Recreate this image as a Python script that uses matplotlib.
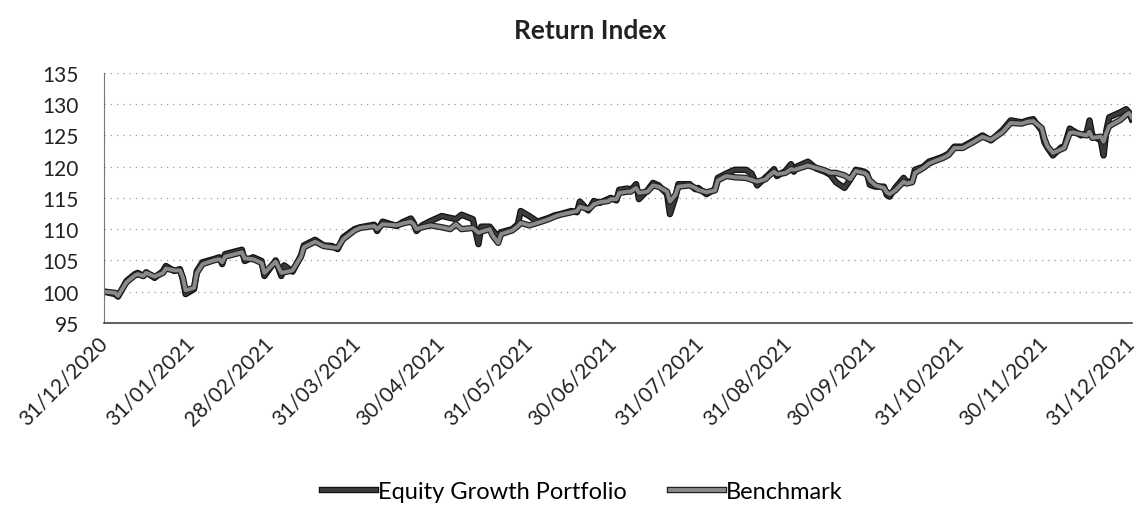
import pandas as pd
import matplotlib.pyplot as plt
import matplotlib.dates as mdates
import matplotlib.patheffects as pe

plt.rcParams['font.family'] = ['Lato', 'DejaVu Sans']

# values
dates = ['2020-12-31', '2021-01-04', '2021-01-05', '2021-01-08', '2021-01-11', '2021-01-12',
         '2021-01-14', '2021-01-15', '2021-01-18', '2021-01-21', '2021-01-22', '2021-01-25',
         '2021-01-27', '2021-01-28', '2021-01-29', '2021-02-01', '2021-02-02', '2021-02-04',
         '2021-02-08', '2021-02-10', '2021-02-11', '2021-02-12', '2021-02-18', '2021-02-19',
         '2021-02-22', '2021-02-25', '2021-02-26', '2021-03-02', '2021-03-04', '2021-03-05',
         '2021-03-08', '2021-03-11', '2021-03-12', '2021-03-16', '2021-03-19', '2021-03-22',
         '2021-03-24', '2021-03-26', '2021-03-30', '2021-04-01', '2021-04-06', '2021-04-07',
         '2021-04-09', '2021-04-14', '2021-04-16', '2021-04-19', '2021-04-20', '2021-04-21',
         '2021-04-23', '2021-04-26', '2021-04-30', '2021-05-03', '2021-05-05', '2021-05-07',
         '2021-05-11', '2021-05-13', '2021-05-14', '2021-05-17', '2021-05-18', '2021-05-20',
         '2021-05-21', '2021-05-25', '2021-05-27', '2021-05-28', '2021-05-31', '2021-06-03',
         '2021-06-07', '2021-06-09', '2021-06-11', '2021-06-15', '2021-06-17', '2021-06-18',
         '2021-06-21', '2021-06-22', '2021-06-23', '2021-06-25', '2021-06-28', '2021-06-29',
         '2021-07-01', '2021-07-02', '2021-07-05', '2021-07-06', '2021-07-08', '2021-07-09',
         '2021-07-12', '2021-07-14', '2021-07-16', '2021-07-19', '2021-07-20', '2021-07-22',
         '2021-07-23', '2021-07-27', '2021-07-29', '2021-07-30', '2021-08-02', '2021-08-05',
         '2021-08-06', '2021-08-09', '2021-08-12', '2021-08-16', '2021-08-18', '2021-08-20',
         '2021-08-23', '2021-08-24', '2021-08-26', '2021-08-27', '2021-08-30', '2021-09-01',
         '2021-09-02', '2021-09-03', '2021-09-07', '2021-09-10', '2021-09-13', '2021-09-15',
         '2021-09-17', '2021-09-20', '2021-09-22', '2021-09-24', '2021-09-27', '2021-09-28',
         '2021-09-29', '2021-10-01', '2021-10-04', '2021-10-05', '2021-10-06', '2021-10-08',
         '2021-10-11', '2021-10-12', '2021-10-14', '2021-10-15', '2021-10-18', '2021-10-20',
         '2021-10-22', '2021-10-25', '2021-10-27', '2021-10-29', '2021-11-01', '2021-11-03',
         '2021-11-05', '2021-11-08', '2021-11-11', '2021-11-15', '2021-11-16', '2021-11-18',
         '2021-11-22', '2021-11-24', '2021-11-26', '2021-11-29', '2021-11-30', '2021-12-01',
         '2021-12-03', '2021-12-06', '2021-12-07', '2021-12-09', '2021-12-10', '2021-12-13',
         '2021-12-15', '2021-12-16', '2021-12-17', '2021-12-20', '2021-12-21', '2021-12-22',
         '2021-12-23', '2021-12-27', '2021-12-29', '2021-12-30', '2021-12-31']

portfolio = [100.0, 99.6, 99.2, 101.7, 102.8, 103.0,
             102.5, 103.1, 102.2, 103.3, 104.1, 103.3,
             103.6, 102.0, 99.6, 100.4, 103.3, 104.7,
             105.2, 105.5, 104.4, 106.0, 106.7, 104.9,
             105.5, 104.9, 102.5, 105.0, 102.5, 104.2,
             103.2, 105.8, 107.4, 108.3, 107.4, 107.3,
             106.8, 108.7, 110.0, 110.3, 110.7, 109.7,
             111.2, 110.5, 111.1, 111.7, 111.0, 109.7,
             110.6, 111.3, 112.1, 111.8, 111.6, 112.3,
             111.6, 107.6, 110.4, 110.4, 109.8, 108.8,
             109.5, 110.0, 110.8, 112.9, 112.1, 111.2,
             111.8, 112.2, 112.4, 112.9, 112.7, 114.4,
             113.0, 113.7, 114.5, 114.2, 114.8, 115.0,
             114.6, 116.3, 116.5, 116.2, 117.2, 114.8,
             116.2, 117.4, 117.0, 115.6, 112.4, 115.2,
             117.2, 117.2, 116.4, 116.6, 115.6, 116.4,
             118.2, 118.9, 119.5, 119.5, 118.9, 117.0,
             118.3, 118.7, 119.6, 118.5, 119.3, 120.4,
             119.2, 120.0, 120.8, 119.7, 119.2, 118.7,
             117.5, 116.6, 117.9, 119.5, 119.2, 118.9,
             117.1, 116.8, 116.8, 115.5, 115.2, 116.6,
             118.2, 117.6, 117.6, 119.5, 120.0, 120.8,
             121.1, 121.6, 122.1, 123.2, 123.2, 123.7,
             124.2, 125.0, 124.2, 125.8, 126.3, 127.4,
             127.1, 127.4, 127.6, 125.8, 123.9, 123.1,
             121.8, 123.1, 123.1, 126.1, 125.8, 125.0,
             125.4, 127.4, 125.0, 124.2, 121.8, 125.8,
             127.9, 128.7, 129.2, 128.7, 127.6]

benchmark = [100.0, 99.8, 99.3, 101.5, 102.6, 102.8,
             102.5, 103.0, 102.4, 103.0, 103.7, 103.4,
             103.4, 102.3, 100.2, 100.6, 103.0, 104.4,
             105.0, 105.2, 104.7, 105.6, 106.3, 105.3,
             105.2, 104.6, 103.0, 104.8, 103.0, 103.1,
             103.4, 105.6, 107.1, 108.0, 107.3, 107.1,
             107.0, 108.4, 109.8, 110.2, 110.5, 110.0,
             110.8, 110.6, 110.9, 111.2, 110.8, 110.0,
             110.3, 110.6, 110.3, 110.0, 110.8, 110.0,
             110.2, 109.4, 109.6, 110.0, 109.0, 107.8,
             109.2, 109.8, 110.5, 111.0, 110.6, 111.0,
             111.6, 112.0, 112.3, 112.7, 112.9, 113.6,
             113.2, 113.5, 114.0, 114.3, 114.5, 114.8,
             114.8, 115.8, 116.0, 116.0, 116.6, 115.8,
             116.0, 117.0, 116.8, 116.0, 114.4, 115.5,
             116.8, 117.0, 116.6, 116.3, 115.9, 116.2,
             117.8, 118.5, 118.3, 118.2, 117.9, 117.6,
             118.0, 118.5, 119.2, 118.8, 119.0, 119.6,
             119.5, 119.6, 120.2, 119.8, 119.4, 119.0,
             119.0, 118.6, 118.0, 119.3, 119.0, 118.7,
             117.8, 117.0, 116.6, 115.9, 115.6, 116.2,
             117.6, 117.3, 117.5, 119.0, 119.8, 120.5,
             120.9, 121.4, 121.9, 123.0, 123.0, 123.5,
             124.0, 124.8, 124.3, 125.5, 126.0, 127.0,
             126.9, 127.2, 127.3, 126.2, 124.5, 123.3,
             122.2, 122.8, 123.0, 125.4, 125.5, 125.2,
             125.0, 125.6, 124.6, 124.8, 124.0, 125.4,
             126.5, 127.5, 128.3, 128.6, 127.9]

month_ends = ['2020-12-31', '2021-01-31', '2021-02-28', '2021-03-31', '2021-04-30',
              '2021-05-31', '2021-06-30', '2021-07-31', '2021-08-31', '2021-09-30',
              '2021-10-31', '2021-11-30', '2021-12-31']

x = pd.to_datetime(dates)
ticks = pd.to_datetime(month_ends)

fig = plt.figure(figsize=(11.42, 5.10), dpi=100)
ax = fig.add_axes([0.091, 0.365, 0.900, 0.49])

ax.plot(x, portfolio, color='#3a3a3a', lw=2.8, label='Equity Growth Portfolio',
        path_effects=[pe.Stroke(linewidth=4.6, foreground='#111111'), pe.Normal()])
ax.plot(x, benchmark, color='#8a8a8a', lw=2.8, label='Benchmark',
        path_effects=[pe.Stroke(linewidth=4.6, foreground='#222222'), pe.Normal()])

ax.set_ylim(95, 135)
ax.set_yticks(range(95, 136, 5))
ax.set_xlim(ticks[0], ticks[-1])
ax.set_xticks(ticks)
ax.xaxis.set_major_formatter(mdates.DateFormatter('%d/%m/%Y'))
ax.tick_params(axis='both', length=0, labelsize=15, colors='#222222')
ax.tick_params(axis='y', pad=18)
ax.tick_params(axis='x', pad=12)
for lbl in ax.get_xticklabels():
    lbl.set_rotation(45)
    lbl.set_ha('right')
    lbl.set_va('center')
    lbl.set_rotation_mode('anchor')

ax.grid(axis='y', linestyle=(0, (1, 4)), color='#9a9a9a', lw=0.9)
ax.set_axisbelow(True)
for s in ['top', 'right']:
    ax.spines[s].set_visible(False)
ax.spines['left'].set_color('#777777')
ax.spines['left'].set_linewidth(0.8)
ax.spines['bottom'].set_color('#444444')
ax.spines['bottom'].set_linewidth(1.2)

fig.text(0.517, 0.94, 'Return Index', ha='center', va='center', fontsize=19,
         fontweight='bold', color='#222222')

fig.legend(loc='lower center', bbox_to_anchor=(0.51, -0.028), ncol=2, frameon=False,
           fontsize=17, handlelength=2.3, handletextpad=0.1, columnspacing=1.8)

fig.savefig('out.png', dpi=100)
